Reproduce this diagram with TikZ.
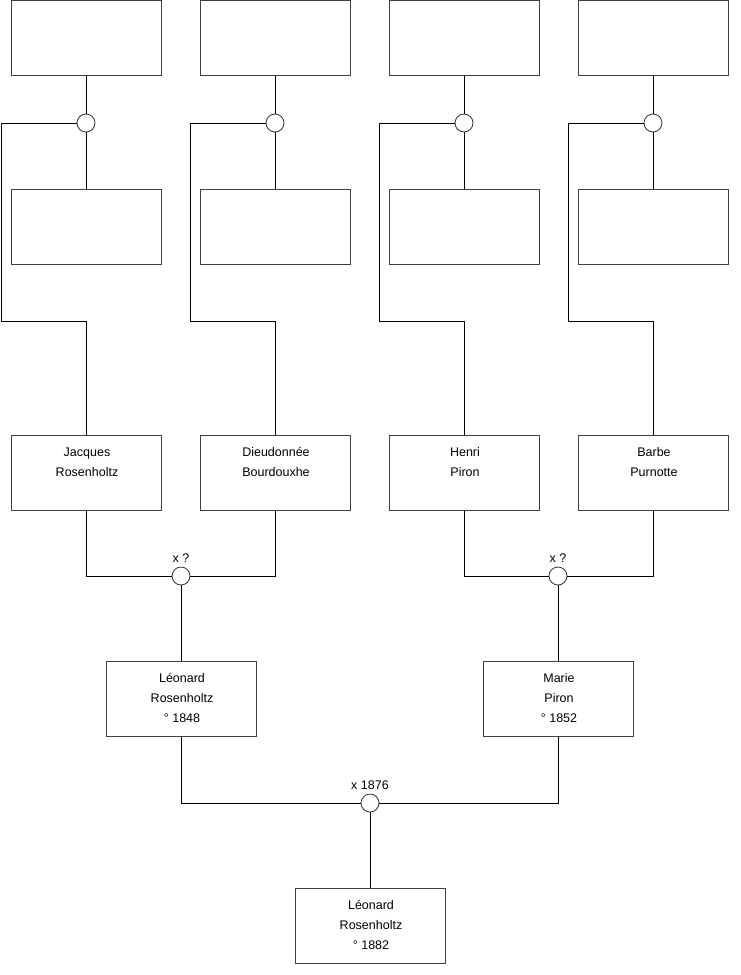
\documentclass[tikz,border=0pt]{standalone}
\usepackage{fontspec}
\setmainfont{Liberation Sans}
\begin{document}
\begin{tikzpicture}[x=1pt,y=-1pt,
  person/.style={draw=black!75,line width=0.9pt,minimum width=150pt,minimum height=75pt,inner sep=0pt,fill=white},
  union/.style={draw=black!80,circle,minimum size=18pt,inner sep=0pt,line width=0.8pt,fill=white},
  link/.style={draw=black,line width=0.8pt},
  lbl/.style={font=\fontsize{12.5}{20}\selectfont,align=center}]
\useasboundingbox (0,0) rectangle (740,975);
% generation 1 (top, empty)
\foreach \n/\x in {a/86,b/275,c/464,d/653}{
  \node[person] (top\n) at (\x,38) {};
  \node[union] (u\n) at (\x,123) {};
  \node[person] (mid\n) at (\x,227) {};
}
% persons
\node[person] (jacques) at (86,473) {};
\node[lbl,anchor=north] (tj) at (87,444) {Jacques\\Rosenholtz};
\node[person] (dieu) at (275,473) {};
\node[lbl,anchor=north] (td) at (276,444) {Dieudonnée\\Bourdouxhe};
\node[person] (henri) at (464,473) {};
\node[lbl,anchor=north] (th) at (465,444) {Henri\\Piron};
\node[person] (barbe) at (653,473) {};
\node[lbl,anchor=north] (tb) at (654,444) {Barbe\\Purnotte};
% left-side links
\foreach \n/\x/\lx/\p in {a/86/1/jacques,b/275/190/dieu,c/464/379/henri,d/653/568/barbe}{
  \draw[link] (top\n.south) -- (u\n.north);
  \draw[link] (u\n.south) -- (mid\n.north);
  \draw[link] (u\n.west) -- (\lx,123) -- (\lx,321) -- (\x,321) -- (\p.north);
}
% unions gen 3
\node[union] (u1) at (181,576) {};
\node[lbl,anchor=south] (l1) at (181,566) {x ?};
\node[union] (u2) at (558,576) {};
\node[lbl,anchor=south] (l2) at (558,566) {x ?};
\draw[link] (jacques.south) -- (86,576) -- (u1.west);
\draw[link] (dieu.south) -- (275,576) -- (u1.east);
\draw[link] (henri.south) -- (464,576) -- (u2.west);
\draw[link] (barbe.south) -- (653,576) -- (u2.east);
\node[person] (leo) at (181,699) {};
\node[lbl,anchor=north] (tl) at (182,670) {Léonard\\Rosenholtz\\° 1848};
\node[person] (marie) at (558,699) {};
\node[lbl,anchor=north] (tm) at (559,670) {Marie\\Piron\\° 1852};
\draw[link] (u1.south) -- (leo.north);
\draw[link] (u2.south) -- (marie.north);
\node[union] (u3) at (370,803) {};
\node[lbl,anchor=south] (l3) at (370,793) {x 1876};
\draw[link] (leo.south) -- (181,803) -- (u3.west);
\draw[link] (marie.south) -- (558,803) -- (u3.east);
\node[person] (leo2) at (370,926) {};
\node[lbl,anchor=north] (tl2) at (371,897) {Léonard\\Rosenholtz\\° 1882};
\draw[link] (u3.south) -- (leo2.north);
\end{tikzpicture}
\end{document}
